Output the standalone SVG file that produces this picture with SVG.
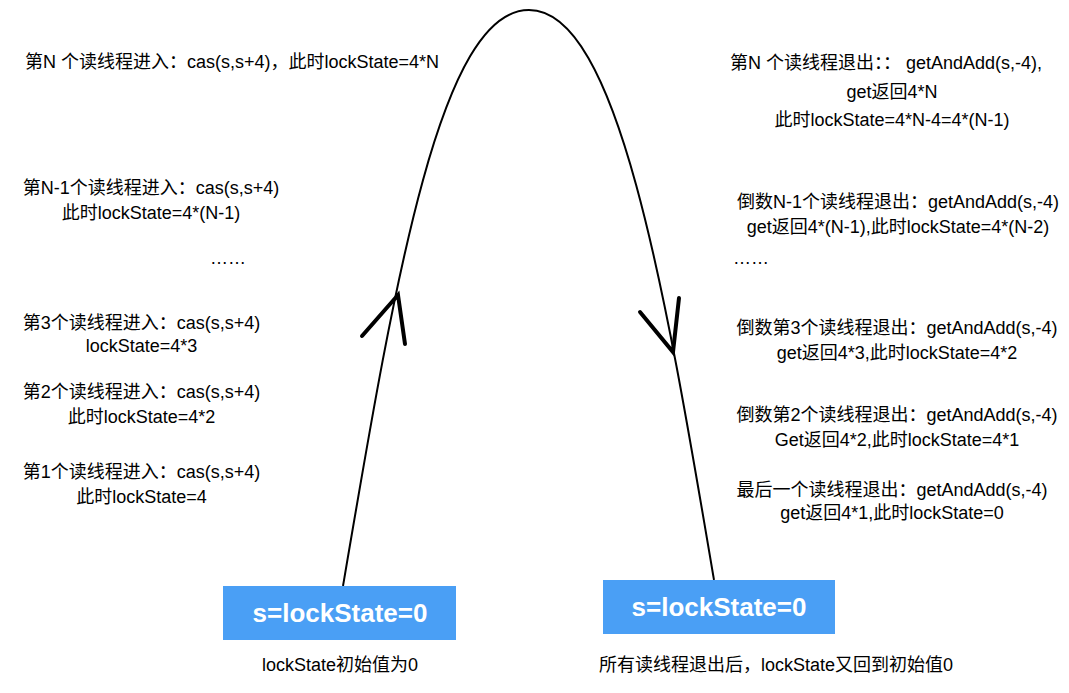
<svg xmlns="http://www.w3.org/2000/svg" width="1069" height="693" viewBox="0 0 1069 693">
<style>
.t{font-family:"Liberation Sans","Noto Sans CJK SC",sans-serif;font-size:18px;fill:#000}
.c{text-anchor:middle}
.cap{font-family:"Liberation Sans","Noto Sans CJK SC",sans-serif;font-size:18px;fill:#000;text-anchor:middle}
.box{fill:#4a9ff5}
.bt{font-family:"Liberation Sans",Arial,sans-serif;font-size:26px;font-weight:bold;fill:#fff;text-anchor:middle}
.curve{fill:none;stroke:#000;stroke-width:2}
.sketch{fill:none;stroke:#000;stroke-width:4;stroke-linecap:round}
</style>
<rect width="1069" height="693" fill="#fff"/>
<g id="connectors">
<path class="curve" d="M343,586 C395,280 440,10 529,10 C618,10 665,290 714,580"/>
<path class="sketch" d="M362,336 L398,295 L405,344"/>
<path class="sketch" d="M640,312 L673,352 L679,298"/>
</g>
<g id="enter-n">
<text class="t" x="25" y="68">第N 个读线程进入：cas(s,s+4)，此时lockState=4*N</text>
</g>
<g id="enter-n1">
<text class="t c" x="151" y="194">第N-1个读线程进入：cas(s,s+4)</text>
<text class="t c" x="151" y="219">此时lockState=4*(N-1)</text>
</g>
<g id="enter-dots">
<text class="t" x="210" y="264">……</text>
</g>
<g id="enter-3">
<text class="t c" x="141.5" y="329">第3个读线程进入：cas(s,s+4)</text>
<text class="t c" x="141.5" y="352">lockState=4*3</text>
</g>
<g id="enter-2">
<text class="t c" x="141.5" y="398">第2个读线程进入：cas(s,s+4)</text>
<text class="t c" x="141.5" y="423">此时lockState=4*2</text>
</g>
<g id="enter-1">
<text class="t c" x="141.5" y="478">第1个读线程进入：cas(s,s+4)</text>
<text class="t c" x="141.5" y="503">此时lockState=4</text>
</g>
<g id="exit-n">
<text class="t c" x="886" y="69">第N 个读线程退出：： getAndAdd(s,-4),</text>
<text class="t c" x="892" y="98">get返回4*N</text>
<text class="t c" x="892" y="126">此时lockState=4*N-4=4*(N-1)</text>
</g>
<g id="exit-n1">
<text class="t c" x="898" y="208">倒数N-1个读线程退出：getAndAdd(s,-4)</text>
<text class="t c" x="898" y="233">get返回4*(N-1),此时lockState=4*(N-2)</text>
</g>
<g id="exit-dots">
<text class="t" x="733" y="264">……</text>
</g>
<g id="exit-3">
<text class="t c" x="897" y="334">倒数第3个读线程退出：getAndAdd(s,-4)</text>
<text class="t c" x="897" y="359">get返回4*3,此时lockState=4*2</text>
</g>
<g id="exit-2">
<text class="t c" x="897" y="421">倒数第2个读线程退出：getAndAdd(s,-4)</text>
<text class="t c" x="897" y="446">Get返回4*2,此时lockState=4*1</text>
</g>
<g id="exit-last">
<text class="t c" x="892" y="496">最后一个读线程退出：getAndAdd(s,-4)</text>
<text class="t c" x="892" y="519">get返回4*1,此时lockState=0</text>
</g>
<g id="start-box">
<rect class="box" x="223" y="586" width="233" height="54"/>
<text class="bt" x="340" y="622">s=lockState=0</text>
<text class="cap" x="340" y="671">lockState初始值为0</text>
</g>
<g id="end-box">
<rect class="box" x="603" y="580" width="232" height="54"/>
<text class="bt" x="719" y="616">s=lockState=0</text>
<text class="cap" x="776" y="671">所有读线程退出后，lockState又回到初始值0</text>
</g>
</svg>
